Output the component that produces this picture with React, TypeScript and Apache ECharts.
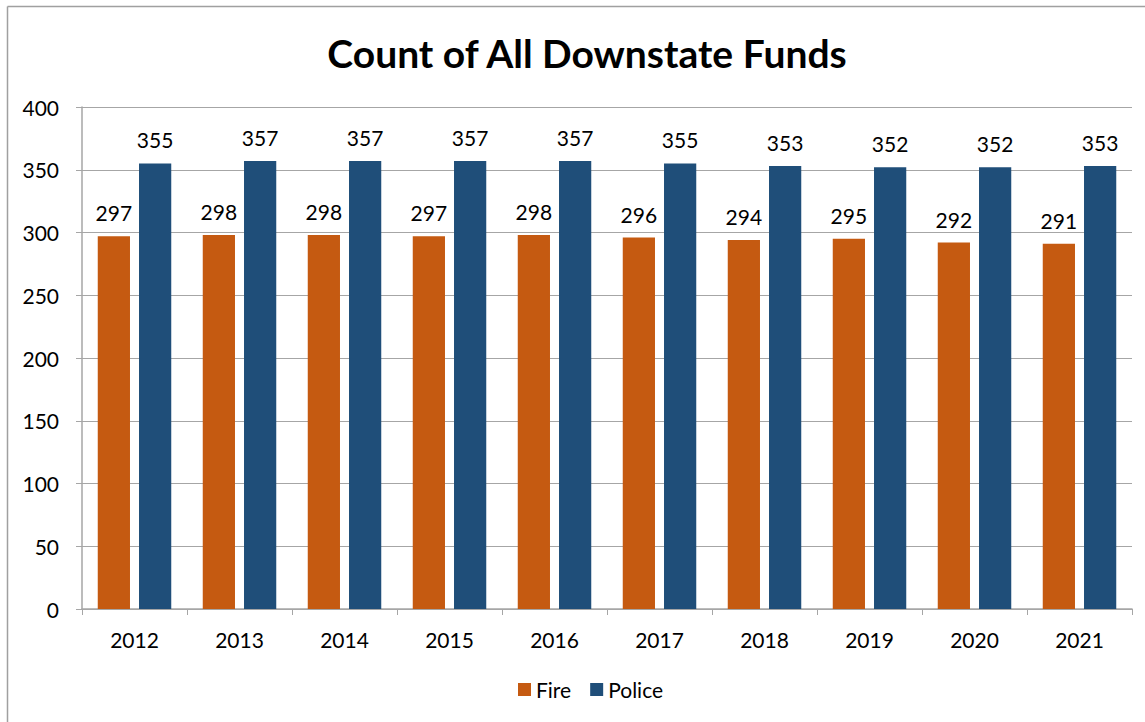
import React, { useEffect, useRef } from "react";
import * as echarts from "echarts";

const years = ["2012", "2013", "2014", "2015", "2016", "2017", "2018", "2019", "2020", "2021"];
const fire = [297, 298, 298, 297, 298, 296, 294, 295, 292, 291];
const police = [355, 357, 357, 357, 357, 355, 353, 352, 352, 353];
const FONT = "Lato, 'Open Sans', sans-serif";

export default function App() {
  const ref = useRef<HTMLDivElement>(null);
  useEffect(() => {
    const chart = echarts.init(ref.current!, null, { renderer: "svg" });
    const label = {
      show: true,
      position: "top" as const,
      distance: 13,
      fontSize: 21,
      color: "#000",
      fontFamily: FONT,
    };
    chart.setOption({
      animation: false,
      backgroundColor: "#fff",
      title: {
        text: "Count of All Downstate Funds",
        left: 582,
        textAlign: "center",
        top: 28,
        textStyle: { fontSize: 39, fontWeight: "bold", color: "#000", fontFamily: FONT },
      },
      graphic: [
        { type: "line", shape: { x1: 7.5, y1: 6.5, x2: 1145, y2: 6.5 }, style: { stroke: "#a0a0a0", lineWidth: 1.5 } },
        { type: "line", shape: { x1: 7.5, y1: 6.5, x2: 7.5, y2: 722 }, style: { stroke: "#a0a0a0", lineWidth: 1.5 } },
      ],
      legend: {
        bottom: 17,
        left: 513,
        itemWidth: 13,
        itemHeight: 13,
        itemGap: 19,
        icon: "rect",
        textStyle: { fontSize: 21, color: "#000", fontFamily: FONT },
        data: ["Fire", "Police"],
      },
      grid: { left: 82, top: 107, right: 13, bottom: 113, containLabel: false },
      xAxis: {
        type: "category",
        data: years,
        axisLine: { lineStyle: { color: "#a6a6a6", width: 1.5 } },
        axisTick: { show: true, length: 6, alignWithLabel: false, lineStyle: { color: "#a6a6a6" } },
        axisLabel: { fontSize: 21, color: "#000", margin: 20, fontFamily: FONT },
      },
      yAxis: {
        type: "value",
        min: 0,
        max: 400,
        interval: 50,
        axisLine: { show: true, lineStyle: { color: "#a6a6a6", width: 1.5 } },
        axisTick: { show: true, length: 6, lineStyle: { color: "#a6a6a6" } },
        splitLine: { lineStyle: { color: "#a6a6a6", width: 1 } },
        axisLabel: { fontSize: 21, color: "#000", margin: 23, fontFamily: FONT },
      },
      series: [
        {
          name: "Fire",
          type: "bar",
          data: fire,
          itemStyle: { color: "#C55A11" },
          barGap: "28%",
          barCategoryGap: "30%",
          label,
        },
        {
          name: "Police",
          type: "bar",
          data: police,
          itemStyle: { color: "#1F4E79" },
          barGap: "28%",
          barCategoryGap: "30%",
          label,
        },
      ],
    });
    return () => chart.dispose();
  }, []);
  return <div ref={ref} style={{ position: "absolute", left: 0, top: 0, width: 1145, height: 722 }} />;
}
